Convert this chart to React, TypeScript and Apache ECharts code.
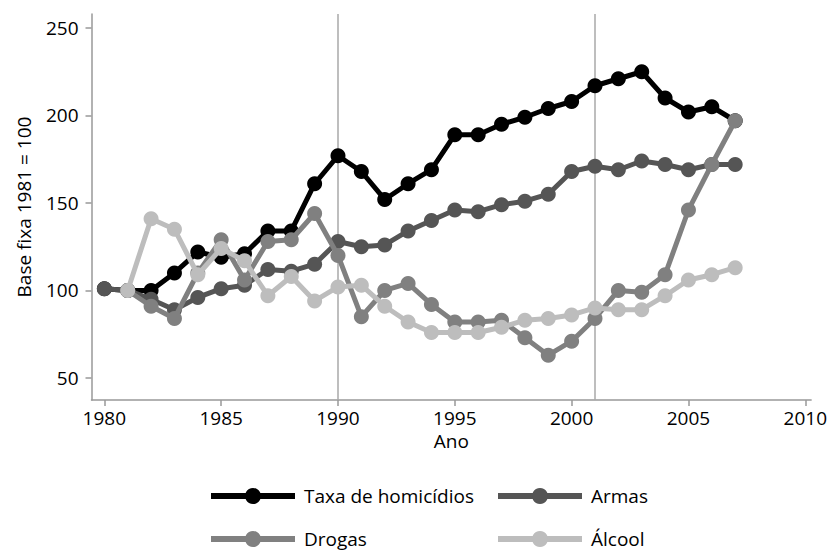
import React, { useEffect, useRef } from "react";
import * as echarts from "echarts";

const years = [1980, 1981, 1982, 1983, 1984, 1985, 1986, 1987, 1988, 1989, 1990, 1991, 1992, 1993, 1994, 1995, 1996, 1997, 1998, 1999, 2000, 2001, 2002, 2003, 2004, 2005, 2006, 2007];

const taxaHomicidios = [101, 100, 100, 110, 122, 119, 121, 134, 134, 161, 177, 168, 152, 161, 169, 189, 189, 195, 199, 204, 208, 217, 221, 225, 210, 202, 205, 197];
const armas = [101, 100, 95, 89, 96, 101, 103, 112, 111, 115, 128, 125, 126, 134, 140, 146, 145, 149, 151, 155, 168, 171, 169, 174, 172, 169, 172, 172];
const drogas = [null, 100, 91, 84, 110, 129, 106, 128, 129, 144, 120, 85, 100, 104, 92, 82, 82, 83, 73, 63, 71, 84, 100, 99, 109, 146, 172, 197];
const alcool = [null, 100, 141, 135, 109, 124, 117, 97, 108, 94, 102, 103, 91, 82, 76, 76, 76, 79, 83, 84, 86, 90, 89, 89, 97, 106, 109, 113];

const xTicks = [1980, 1985, 1990, 1995, 2000, 2005, 2010];
const yTicks = [50, 100, 150, 200, 250];
const markYears = [1990, 2001];

const seriesNames = ["Taxa de homicídios", "Armas", "Drogas", "Álcool"];
const seriesColors = ["#000000", "#555555", "#808080", "#bdbdbd"];

const FONT = "Open Sans";

export default function App() {
  const ref = useRef<HTMLDivElement>(null);
  useEffect(() => {
    if (!ref.current) return;
    const chart = echarts.init(ref.current, null, { renderer: "svg" });
    const allData = [taxaHomicidios, armas, drogas, alcool];
    const series: any[] = allData.map((arr, i) => ({
      name: seriesNames[i],
      type: "line",
      data: years.map((y, j) => [y, arr[j]]).filter((p) => p[1] !== null),
      symbol: "circle",
      symbolSize: 15,
      showSymbol: true,
      lineStyle: { color: seriesColors[i], width: 5 },
      itemStyle: { color: seriesColors[i] },
      z: 3 + i,
    }));
    series[0].markLine = {
      silent: true,
      symbol: "none",
      label: { show: false },
      lineStyle: { color: "#a8a8a8", width: 1.5, type: "solid" },
      data: markYears.map((y) => ({ xAxis: y })),
      z: 1,
    };
    const legendPos = [
      { left: 203, top: 480 },
      { left: 490, top: 480 },
      { left: 203, top: 523 },
      { left: 490, top: 523 },
    ];
    const legends = seriesNames.map((name, i) => ({
      data: [name],
      left: legendPos[i].left,
      top: legendPos[i].top,
      itemWidth: 84,
      itemHeight: 20,
      lineStyle: { width: 6 },
      textStyle: { fontSize: 19, color: "#000", fontFamily: FONT, padding: [0, 0, 0, 4], lineHeight: 22 },
    }));
    chart.setOption({
      animation: false,
      textStyle: { fontFamily: FONT },
      grid: { left: 91.5, right: 16, top: 14, bottom: 154 },
      xAxis: {
        type: "value",
        min: 1979.45,
        max: 2010.25,
        name: "Ano",
        nameLocation: "middle",
        nameGap: 26,
        nameTextStyle: { fontSize: 19, color: "#000", fontFamily: FONT },
        splitLine: { show: false },
        axisLine: { show: true, lineStyle: { color: "#999", width: 1.5 } },
        axisTick: { show: true, length: 6, customValues: xTicks, lineStyle: { color: "#999", width: 1.5 } },
        axisLabel: { customValues: xTicks, fontSize: 19, color: "#000", margin: 8, fontFamily: FONT, formatter: (v: number) => String(v) },
      },
      yAxis: {
        type: "value",
        min: 37.4,
        max: 258,
        name: "Base fixa 1981 = 100",
        nameLocation: "middle",
        nameGap: 58,
        nameRotate: 90,
        nameTextStyle: { fontSize: 19, color: "#000", fontFamily: FONT },
        splitLine: { show: false },
        axisLine: { show: true, lineStyle: { color: "#999", width: 1.5 } },
        axisTick: { show: true, length: 6, customValues: yTicks, lineStyle: { color: "#999", width: 1.5 } },
        axisLabel: { customValues: yTicks, fontSize: 19, color: "#000", margin: 13, fontFamily: FONT, formatter: (v: number) => String(v) },
      },
      legend: legends,
      series,
    });
    return () => chart.dispose();
  }, []);
  return <div ref={ref} style={{ width: 830, height: 554, position: "absolute", left: 0, top: 0 }} />;
}
